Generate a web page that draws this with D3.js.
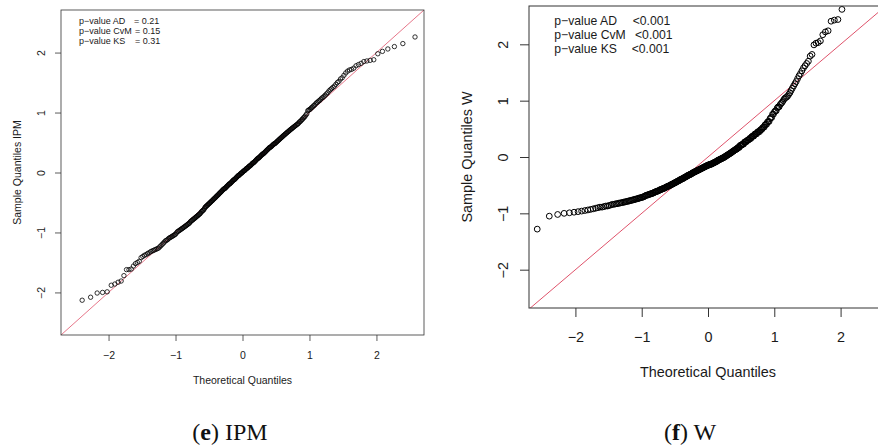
<!DOCTYPE html>
<html>
<head>
<meta charset="utf-8">
<script src="https://cdn.jsdelivr.net/npm/d3@7"></script>
<style>
  body { margin: 0; background: #fff; }
  svg { display: block; font-family: "Liberation Sans", Arial, sans-serif; }
</style>
</head>
<body>
<svg class="chart" width="878" height="446"></svg>
<script>
// sorted sample quantiles (n = 300 each)
var ipmSample = [
  -3.05,-2.85,-2.13,-2.08,-2.01,-2.00,-1.99,-1.88,-1.86,-1.83,
  -1.81,-1.72,-1.62,-1.62,-1.61,-1.56,-1.52,-1.50,-1.48,-1.42,
  -1.40,-1.38,-1.37,-1.35,-1.34,-1.32,-1.31,-1.30,-1.29,-1.28,
  -1.27,-1.26,-1.24,-1.22,-1.20,-1.18,-1.16,-1.14,-1.13,-1.12,
  -1.10,-1.09,-1.08,-1.07,-1.06,-1.05,-1.04,-1.03,-1.01,-0.99,
  -0.98,-0.97,-0.96,-0.95,-0.94,-0.93,-0.92,-0.91,-0.90,-0.89,
  -0.88,-0.87,-0.86,-0.85,-0.84,-0.82,-0.81,-0.80,-0.79,-0.78,
  -0.77,-0.76,-0.75,-0.74,-0.73,-0.72,-0.71,-0.70,-0.69,-0.68,
  -0.66,-0.65,-0.64,-0.63,-0.62,-0.60,-0.58,-0.57,-0.56,-0.55,
  -0.54,-0.53,-0.52,-0.51,-0.50,-0.49,-0.48,-0.47,-0.46,-0.45,
  -0.44,-0.43,-0.42,-0.41,-0.40,-0.39,-0.38,-0.37,-0.36,-0.35,
  -0.34,-0.33,-0.32,-0.31,-0.30,-0.29,-0.28,-0.27,-0.27,-0.26,
  -0.25,-0.24,-0.23,-0.22,-0.21,-0.20,-0.19,-0.19,-0.18,-0.17,
  -0.16,-0.15,-0.14,-0.13,-0.12,-0.12,-0.11,-0.10,-0.09,-0.08,
  -0.07,-0.06,-0.05,-0.05,-0.04,-0.03,-0.02,-0.01,-0.01,0.00,
  0.01,0.02,0.03,0.03,0.04,0.05,0.06,0.07,0.07,0.08,
  0.09,0.10,0.11,0.11,0.12,0.13,0.14,0.15,0.16,0.16,
  0.17,0.18,0.19,0.20,0.21,0.22,0.23,0.24,0.24,0.25,
  0.26,0.27,0.28,0.29,0.30,0.31,0.31,0.32,0.33,0.34,
  0.35,0.36,0.37,0.38,0.39,0.40,0.41,0.42,0.42,0.43,
  0.44,0.45,0.46,0.47,0.48,0.48,0.49,0.50,0.51,0.52,
  0.53,0.54,0.55,0.56,0.57,0.58,0.59,0.60,0.61,0.62,
  0.63,0.64,0.65,0.66,0.67,0.68,0.69,0.70,0.71,0.72,
  0.73,0.74,0.75,0.76,0.77,0.78,0.79,0.80,0.81,0.82,
  0.84,0.85,0.86,0.88,0.89,0.91,0.92,0.94,0.96,0.98,
  1.03,1.04,1.05,1.06,1.08,1.09,1.11,1.12,1.14,1.16,
  1.17,1.19,1.20,1.22,1.24,1.25,1.27,1.29,1.31,1.33,
  1.36,1.38,1.40,1.42,1.44,1.47,1.50,1.52,1.56,1.58,
  1.62,1.66,1.69,1.71,1.72,1.74,1.78,1.80,1.82,1.85,
  1.86,1.87,1.88,1.98,2.02,2.06,2.10,2.15,2.26,2.45
];

var wSample = [
  -1.60,-1.28,-1.05,-1.02,-1.00,-0.99,-0.98,-0.97,-0.96,-0.95,
  -0.94,-0.93,-0.92,-0.91,-0.90,-0.89,-0.89,-0.88,-0.87,-0.87,
  -0.86,-0.85,-0.84,-0.84,-0.83,-0.83,-0.82,-0.82,-0.81,-0.81,
  -0.80,-0.80,-0.79,-0.79,-0.78,-0.78,-0.77,-0.77,-0.76,-0.76,
  -0.75,-0.75,-0.74,-0.74,-0.73,-0.73,-0.72,-0.72,-0.71,-0.71,
  -0.70,-0.69,-0.68,-0.68,-0.67,-0.67,-0.66,-0.66,-0.65,-0.65,
  -0.64,-0.64,-0.63,-0.62,-0.62,-0.61,-0.61,-0.60,-0.60,-0.59,
  -0.58,-0.58,-0.57,-0.57,-0.56,-0.56,-0.55,-0.55,-0.54,-0.53,
  -0.53,-0.52,-0.52,-0.51,-0.51,-0.50,-0.49,-0.49,-0.48,-0.48,
  -0.47,-0.46,-0.46,-0.45,-0.45,-0.44,-0.43,-0.43,-0.42,-0.42,
  -0.41,-0.40,-0.40,-0.39,-0.39,-0.38,-0.38,-0.37,-0.36,-0.36,
  -0.35,-0.35,-0.34,-0.33,-0.33,-0.32,-0.32,-0.31,-0.31,-0.30,
  -0.30,-0.29,-0.28,-0.28,-0.27,-0.27,-0.26,-0.26,-0.25,-0.25,
  -0.24,-0.24,-0.23,-0.23,-0.22,-0.22,-0.21,-0.21,-0.20,-0.20,
  -0.19,-0.19,-0.18,-0.18,-0.17,-0.17,-0.16,-0.16,-0.15,-0.15,
  -0.14,-0.14,-0.14,-0.13,-0.13,-0.13,-0.12,-0.12,-0.11,-0.11,
  -0.10,-0.10,-0.09,-0.09,-0.08,-0.08,-0.07,-0.06,-0.06,-0.05,
  -0.05,-0.04,-0.04,-0.03,-0.03,-0.02,-0.02,-0.01,-0.01,0.00,
  0.01,0.01,0.02,0.03,0.03,0.04,0.05,0.05,0.06,0.07,
  0.07,0.08,0.09,0.10,0.10,0.11,0.12,0.13,0.13,0.14,
  0.14,0.16,0.17,0.17,0.17,0.20,0.21,0.21,0.21,0.23,
  0.23,0.23,0.26,0.27,0.27,0.27,0.29,0.30,0.30,0.31,
  0.33,0.33,0.33,0.36,0.37,0.37,0.37,0.40,0.41,0.41,
  0.41,0.44,0.45,0.45,0.45,0.48,0.49,0.49,0.52,0.53,
  0.53,0.57,0.58,0.58,0.62,0.63,0.63,0.68,0.70,0.70,
  0.76,0.76,0.80,0.82,0.82,0.87,0.89,0.89,0.93,0.95,
  0.97,1.00,1.03,1.05,1.06,1.08,1.11,1.14,1.18,1.22,
  1.26,1.30,1.34,1.39,1.44,1.48,1.53,1.58,1.62,1.66,
  1.70,1.79,1.82,1.99,2.02,2.03,2.06,2.17,2.22,2.24,
  2.41,2.43,2.44,2.62,2.78,2.85,2.93,3.05,3.21,3.48
];

var axisTicks = [-2, -1, 0, 1, 2];
var testNames = ["p\u2212value AD", "p\u2212value CvM", "p\u2212value KS"];
var ipmPvalues = ["= 0.21", "= 0.15", "= 0.31"];
var wPvalues = ["<0.001", "<0.001", "<0.001"];
var xTitle = "Theoretical Quantiles";

// inverse normal cdf (Acklam), used for the theoretical quantiles like qqnorm
function qnorm(p) {
    var a = [-3.969683028665376e+01, 2.209460984245205e+02, -2.759285104469687e+02,
             1.383577518672690e+02, -3.066479806614716e+01, 2.506628277459239e+00];
    var b = [-5.447609879822406e+01, 1.615858368580409e+02, -1.556989798598866e+02,
             6.680131188771972e+01, -1.328068155288572e+01];
    var c = [-7.784894002430293e-03, -3.223964580411365e-01, -2.400758277161838e+00,
             -2.549732539343734e+00, 4.374664141464968e+00, 2.938163982698783e+00];
    var d = [7.784695709041462e-03, 3.224671290700398e-01, 2.445134137142996e+00,
             3.754408661907416e+00];
    var pl = 0.02425, q, r;
    if (p < pl) {
        q = Math.sqrt(-2 * Math.log(p));
        return (((((c[0]*q+c[1])*q+c[2])*q+c[3])*q+c[4])*q+c[5]) / ((((d[0]*q+d[1])*q+d[2])*q+d[3])*q+1);
    }
    if (p > 1 - pl) {
        q = Math.sqrt(-2 * Math.log(1 - p));
        return -(((((c[0]*q+c[1])*q+c[2])*q+c[3])*q+c[4])*q+c[5]) / ((((d[0]*q+d[1])*q+d[2])*q+d[3])*q+1);
    }
    q = p - 0.5; r = q * q;
    return (((((a[0]*r+a[1])*r+a[2])*r+a[3])*r+a[4])*r+a[5])*q / (((((b[0]*r+b[1])*r+b[2])*r+b[3])*r+b[4])*r+1);
}

// R's ppoints for n > 10
function theoretical(n) {
    return d3.range(n).map(function(i) { return qnorm((i + 1 - 0.5) / n); });
}

var svg = d3.select(".chart");
var defs = svg.append("defs");

function drawPanel(cfg, sample, values) {
    var x = d3.scaleLinear().domain(cfg.dom).range([cfg.left, cfg.right]);
    var y = d3.scaleLinear().domain(cfg.ydom).range([cfg.bottom, cfg.top]);
    var theo = theoretical(sample.length);

    defs.append("clipPath").attr("id", "clip-" + cfg.id)
        .append("rect")
        .attr("x", cfg.left).attr("y", cfg.top)
        .attr("width", cfg.right - cfg.left).attr("height", cfg.bottom - cfg.top);

    var g = svg.append("g").attr("fill", "#1a1a1a");

    // x axis
    var gx = g.append("g")
        .attr("transform", "translate(0," + cfg.bottom + ")")
        .call(d3.axisBottom(x).tickValues(axisTicks).tickSize(cfg.tick).tickSizeOuter(0).tickFormat(d3.format("d")));
    gx.select(".domain").remove();
    gx.selectAll("line").attr("stroke", "#333").attr("stroke-width", cfg.lw);
    gx.selectAll("text")
        .attr("y", cfg.xLabOff).attr("dy", "0.35em")
        .attr("fill", "#1a1a1a").style("font-size", cfg.fs + "px")
        .style("font-family", "Liberation Sans, Arial, sans-serif");

    // y axis, labels turned like R does
    var gy = g.append("g")
        .attr("transform", "translate(" + cfg.left + ",0)")
        .call(d3.axisLeft(y).tickValues(axisTicks).tickSize(cfg.tick).tickSizeOuter(0).tickFormat(d3.format("d")));
    gy.select(".domain").remove();
    gy.selectAll("line").attr("stroke", "#333").attr("stroke-width", cfg.lw);
    gy.selectAll("text")
        .attr("transform", "rotate(-90)")
        .attr("x", 0).attr("y", -cfg.yLabOff).attr("dy", "0.35em")
        .attr("text-anchor", "middle")
        .attr("fill", "#1a1a1a").style("font-size", cfg.fs + "px")
        .style("font-family", "Liberation Sans, Arial, sans-serif");

    // axis titles
    g.append("text")
        .attr("x", (cfg.left + cfg.titleRight) / 2).attr("y", cfg.xTitleY).attr("dy", "0.35em")
        .attr("text-anchor", "middle").style("font-size", cfg.fs + "px")
        .text(xTitle);
    g.append("text")
        .attr("transform", "translate(" + cfg.yTitleX + "," + (cfg.top + cfg.bottom) / 2 + ") rotate(-90)")
        .attr("dy", "0.35em")
        .attr("text-anchor", "middle").style("font-size", cfg.fs + "px")
        .text(cfg.yTitle);

    // reference line y = x
    var plot = g.append("g").attr("clip-path", "url(#clip-" + cfg.id + ")");
    plot.append("line")
        .attr("x1", x(-3)).attr("y1", y(-3))
        .attr("x2", x(3)).attr("y2", y(3))
        .attr("stroke", "#DF536B").attr("stroke-width", cfg.lw);

    plot.selectAll("circle.pt").data(sample).enter()
        .append("circle")
        .attr("class", "pt")
        .attr("cx", function(d, i) { return x(theo[i]); })
        .attr("cy", function(d) { return y(d); })
        .attr("r", cfg.r)
        .attr("fill", "none")
        .attr("stroke", "#000")
        .attr("stroke-width", cfg.pw);

    // frame
    g.append("rect")
        .attr("x", cfg.left).attr("y", cfg.top)
        .attr("width", cfg.right - cfg.left).attr("height", cfg.bottom - cfg.top)
        .attr("fill", "none").attr("stroke", "#333").attr("stroke-width", cfg.lw);

    // p-values
    var leg = g.append("g").style("font-size", cfg.legFs + "px");
    testNames.forEach(function(name, i) {
        leg.append("text")
            .attr("x", cfg.legX).attr("y", cfg.legY[i]).attr("dy", "0.35em")
            .text(name);
        leg.append("text")
            .attr("x", cfg.valX[i]).attr("y", cfg.legY[i]).attr("dy", "0.35em")
            .text(values[i]);
    });
}

drawPanel({
    id: "ipm", left: 61, right: 424, top: 10, bottom: 335, titleRight: 424,
    dom: [-2.71, 2.71], ydom: [-2.71, 2.71],
    fs: 10.5, legFs: 9, tick: 6, lw: 0.8, r: 2.2, pw: 0.8,
    xLabOff: 20, yLabOff: 19.5, xTitleY: 380, yTitleX: 17.5,
    yTitle: "Sample Quantiles IPM",
    legX: 79, legY: [21, 31, 41.3], valX: [134, 135, 135]
}, ipmSample, ipmPvalues);

drawPanel({
    id: "w", left: 529, right: 887, top: 6, bottom: 308, titleRight: 887,
    dom: [-2.7, 2.7], ydom: [-2.68, 2.68],
    fs: 14.4, legFs: 12.2, tick: 9, lw: 1, r: 2.9, pw: 1,
    xLabOff: 29, yLabOff: 25.7, xTitleY: 371.7, yTitleX: 467,
    yTitle: "Sample Quantiles W",
    legX: 554.3, legY: [20.7, 34.7, 48.7], valX: [632.7, 635, 631.7]
}, wSample, wPvalues);

// sub-figure captions
var caps = svg.append("g")
    .style("font-family", "Liberation Serif, 'Times New Roman', serif")
    .style("font-size", "24px").attr("fill", "#111");
var capE = caps.append("text").attr("x", 230).attr("y", 440).attr("text-anchor", "middle");
capE.append("tspan").text("(");
capE.append("tspan").style("font-weight", "bold").text("e");
capE.append("tspan").text(") IPM");
var capF = caps.append("text").attr("x", 690).attr("y", 440).attr("text-anchor", "middle");
capF.append("tspan").text("(");
capF.append("tspan").style("font-weight", "bold").text("f");
capF.append("tspan").text(") W");
</script>
</body>
</html>
